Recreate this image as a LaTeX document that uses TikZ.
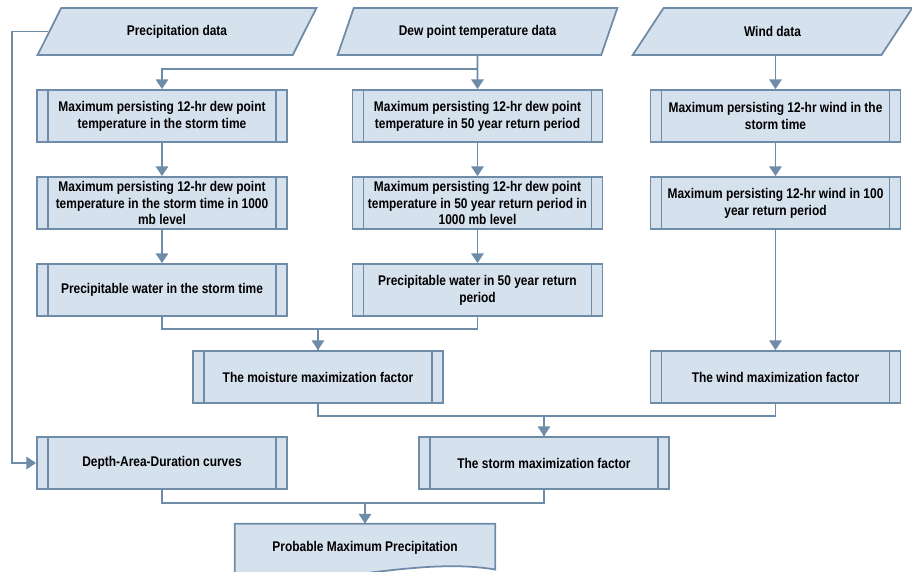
\documentclass[tikz,border=0pt]{standalone}
\usepackage{fontspec}
\newfontfamily\flowfont[FakeStretch=0.85]{Liberation Sans}
\usetikzlibrary{shapes.geometric,arrows.meta,backgrounds}
\definecolor{boxfill}{RGB}{214,225,238}
\definecolor{boxline}{RGB}{110,139,167}
\tikzset{
	boxtext/.style={font=\flowfont\bfseries\fontsize{8}{9.6}\selectfont, align=center, inner sep=0pt},
	procbox/.style={boxtext, rectangle, draw=boxline, fill=boxfill, line width=1pt,
		minimum width=5cm, minimum height=1.04cm,
		path picture={\draw[boxline, line width=1pt]
			([xshift=0.22cm]path picture bounding box.north west) -- ([xshift=0.22cm]path picture bounding box.south west)
			([xshift=-0.22cm]path picture bounding box.north east) -- ([xshift=-0.22cm]path picture bounding box.south east);}},
	databox/.style={boxtext, trapezium, trapezium left angle=52, trapezium right angle=128,
		trapezium stretches=true, draw=boxline, fill=boxfill, line width=1pt,
		minimum width=5.6cm, minimum height=0.94cm},
	docbox/.style={boxtext, rectangle, minimum width=5.2cm, minimum height=0.94cm},
	flow/.style={boxline, line width=1pt, -{Triangle[width=7pt,length=5.5pt]}},
	link/.style={boxline, line width=1pt}
}
\begin{document}
\begin{tikzpicture}[x=0.02cm, y=-0.02cm]
	\useasboundingbox (0,0) rectangle (912,571);

	\node[databox] (prec) at (177,31.5) {Precipitation data};
	\node[databox] (dew) at (477.5,31.5) {Dew point temperature data};
	\node[databox] (wind) at (772.5,31.5) {Wind data};

	\node[procbox] (tds) at (162,116) {Maximum persisting 12-hr dew point\\temperature in the storm time};
	\node[procbox] (tdsmb) at (162,203) {Maximum persisting 12-hr dew point\\temperature in the storm time in 1000\\mb level};
	\node[procbox] (pws) at (162,290) {Precipitable water in the storm time};

	\node[procbox] (td50) at (477.5,116) {Maximum persisting 12-hr dew point\\temperature in 50 year return period};
	\node[procbox] (td50mb) at (477.5,203) {Maximum persisting 12-hr dew point\\temperature in 50 year return period in\\1000 mb level};
	\node[procbox] (pw50) at (477.5,290) {Precipitable water in 50 year return\\period};

	\node[procbox] (ws) at (775.5,116) {Maximum persisting 12-hr wind in the\\storm time};
	\node[procbox] (w100) at (775.5,203) {Maximum persisting 12-hr wind in 100\\year return period};

	\node[procbox] (mmf) at (318,377) {The moisture maximization factor};
	\node[procbox] (wmf) at (775.5,377) {The wind maximization factor};

	\node[procbox] (dad) at (162,463) {Depth-Area-Duration curves};
	\node[procbox] (smf) at (544,463) {The storm maximization factor};

	\node[docbox] (pmp) at (365,547.5) {Probable Maximum Precipitation};
	\begin{scope}[on background layer]
		\filldraw[boxline, fill=boxfill, line width=1pt]
		(pmp.north west) -- (pmp.north east) -- ([yshift=1pt]pmp.south east)
		.. controls +(-80,-14) and +(80,12) .. ([yshift=-4pt]pmp.south west) -- cycle;
	\end{scope}

	\coordinate (rail) at (12,0);
	\draw[flow] (prec.west) -- (prec.west -| rail) |- (dad.west);

	\draw[flow] (dew.south) -- (td50.north);
	\draw[flow] (dew.south) -- ++(0,13) -| (tds.north);
	\draw[flow] (wind.south -| ws.north) -- (ws.north);

	\draw[flow] (tds) -- (tdsmb);
	\draw[flow] (tdsmb) -- (pws);
	\draw[flow] (td50) -- (td50mb);
	\draw[flow] (td50mb) -- (pw50);
	\draw[flow] (ws) -- (w100);
	\draw[flow] (w100) -- (wmf);

	\draw[link] (pw50.south) -- ++(0,12) -| (mmf.north);
	\draw[flow] (pws.south) -- ++(0,12) -| (mmf.north);

	\draw[link] (wmf.south) -- ++(0,12) -| (smf.north);
	\draw[flow] (mmf.south) -- ++(0,12) -| (smf.north);

	\draw[link] (smf.south) -- ++(0,13) -| (pmp.north);
	\draw[flow] (dad.south) -- ++(0,13) -| (pmp.north);
\end{tikzpicture}
\end{document}
